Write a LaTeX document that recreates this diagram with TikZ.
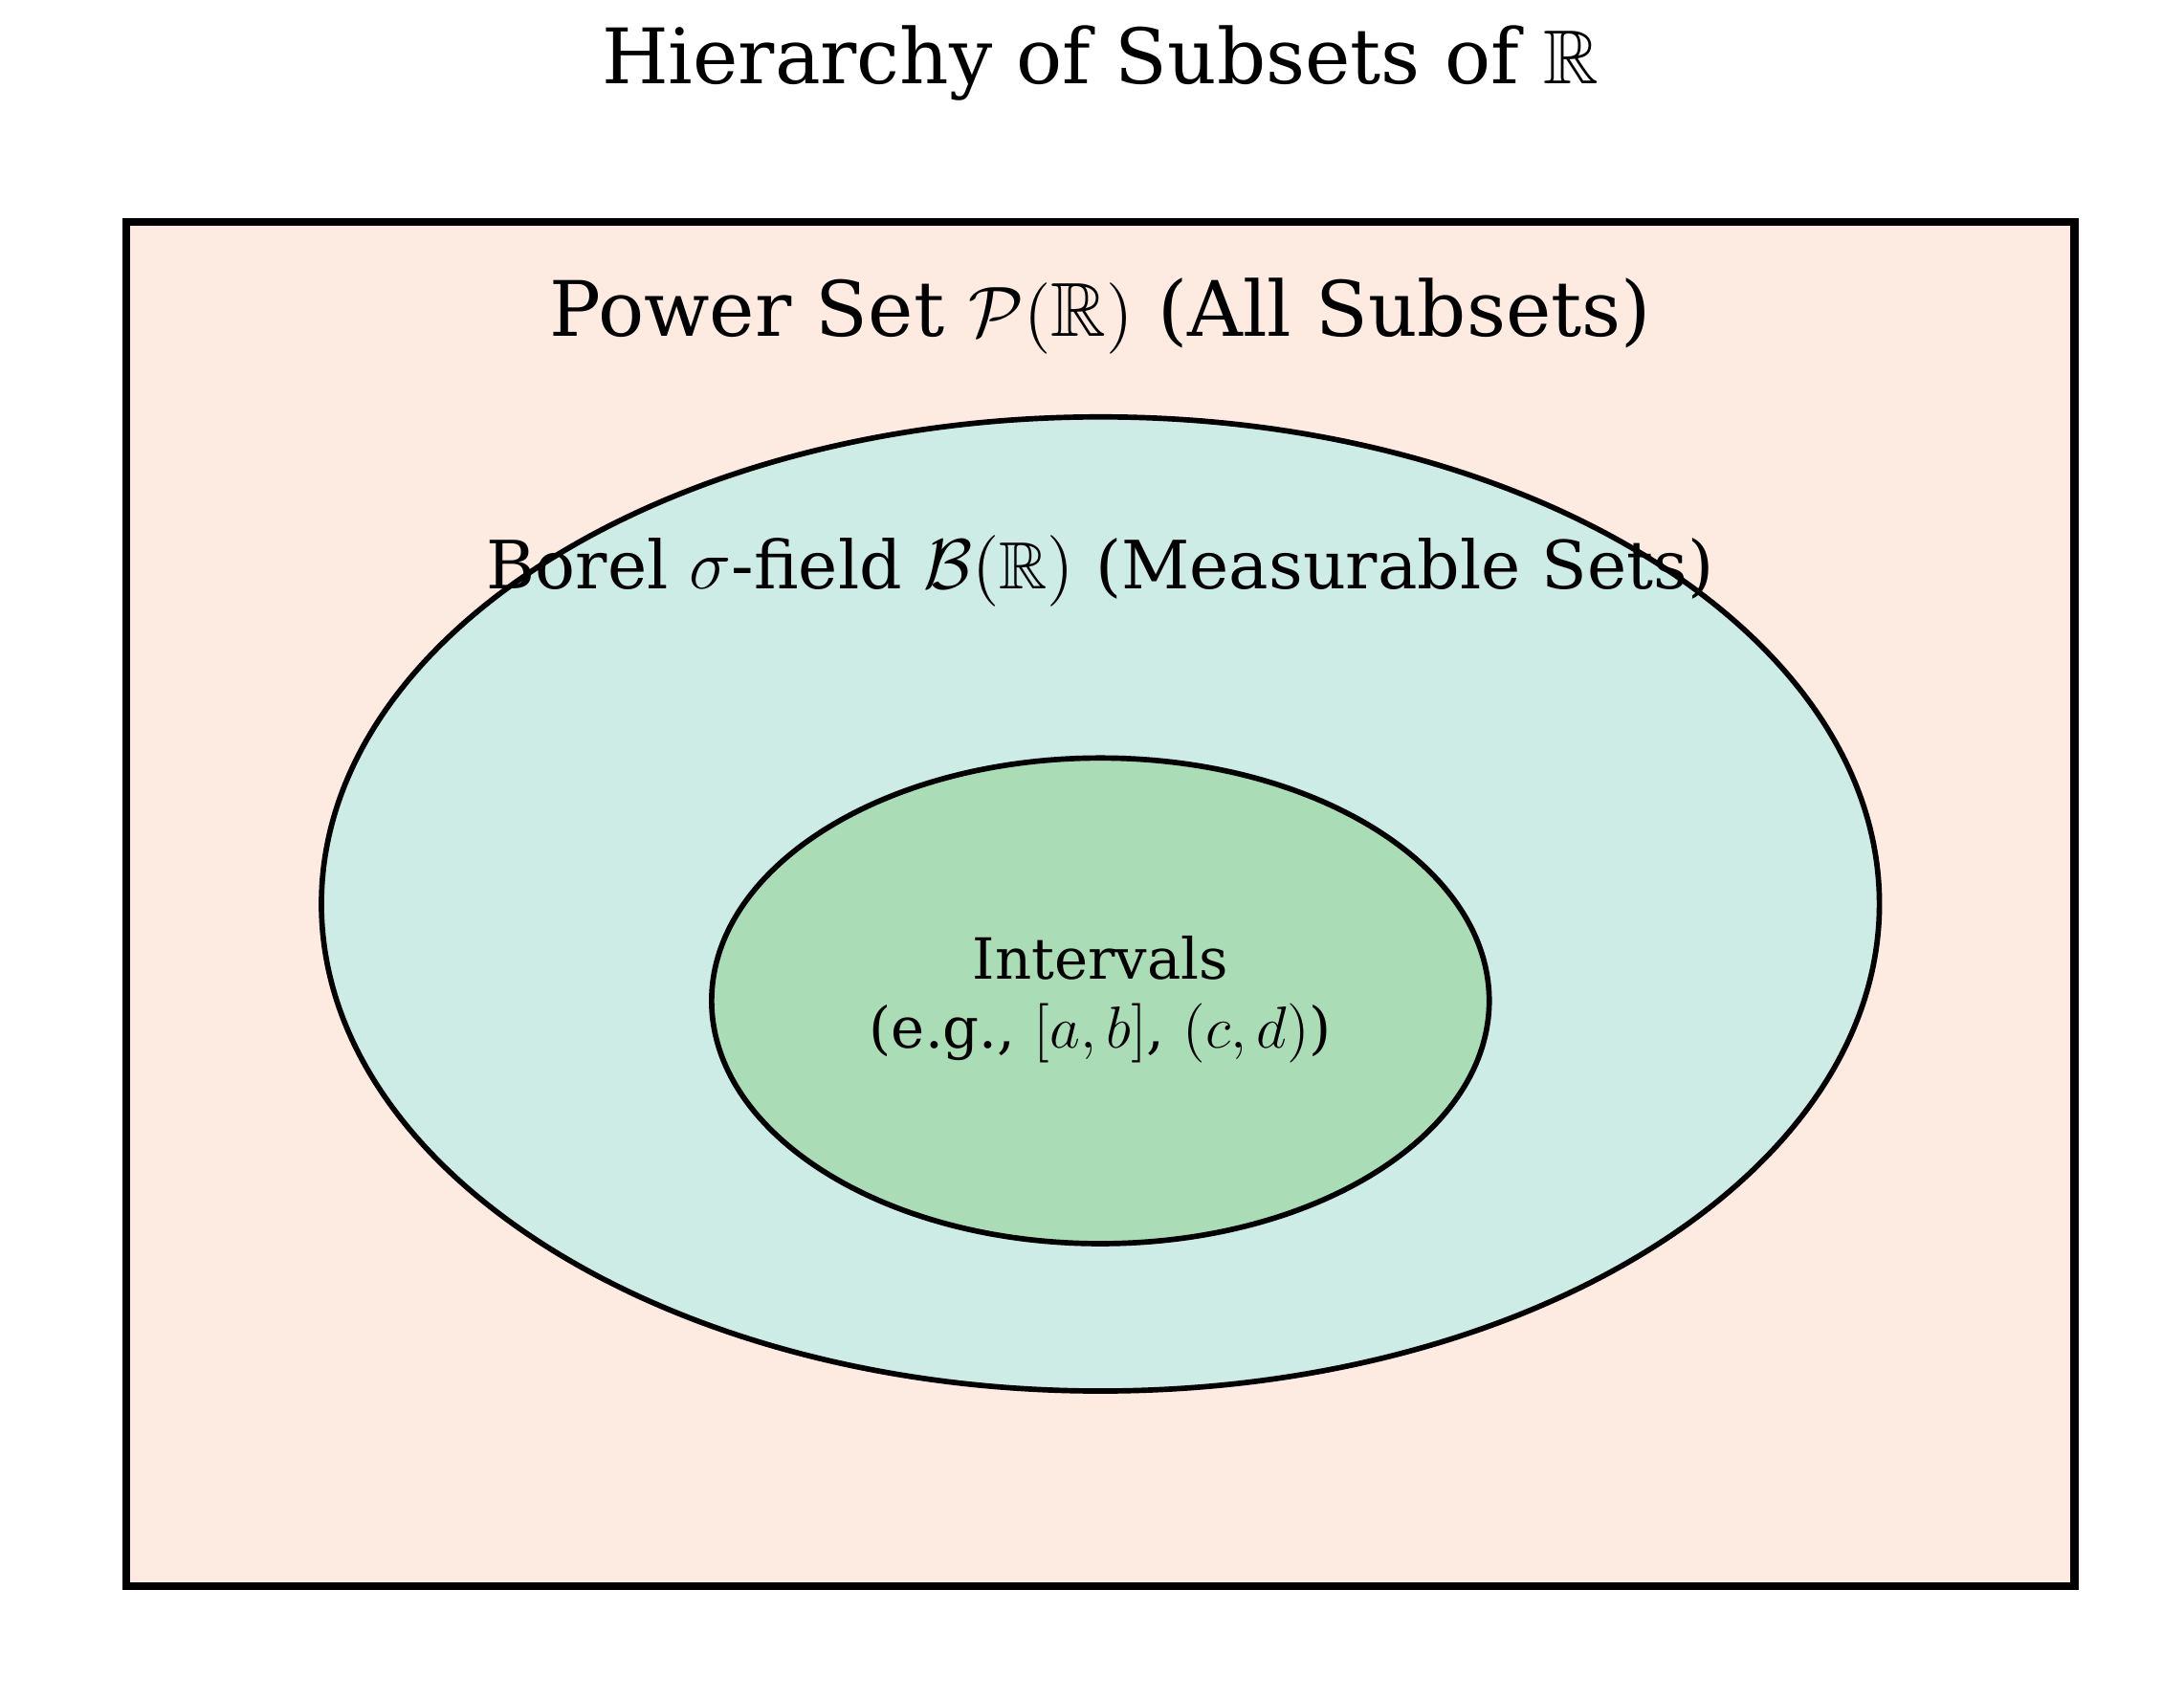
\documentclass[tikz,border=0pt]{standalone}
\usepackage{amssymb}
\usepackage{fontspec}
\setmainfont{DejaVu Serif}
\usetikzlibrary{positioning}
\definecolor{powerfill}{HTML}{FDEBE1}
\definecolor{borelfill}{HTML}{CCECE5}
\definecolor{intfill}{HTML}{AADDB5}
\begin{document}
\begin{tikzpicture}[x=0.01cm,y=-0.01cm]
	\tikzset{
		setline/.style={draw=black, line width=1.1pt},
		lbl/.style={inner sep=0pt, align=center}
	}
	\useasboundingbox (0,0) rectangle (1556,1211);

	\draw [setline, line width=1.6pt, fill=powerfill] (90,158) rectangle (1478,1130);
	\draw [setline, fill=borelfill] (784,644) ellipse [x radius=555, y radius=347];
	\draw [setline, fill=intfill] (784,713) ellipse [x radius=277, y radius=173];

	\node [lbl, font=\fontsize{15.5}{18}\selectfont] (title) at (784,45) {Hierarchy of Subsets of $\mathbb{R}$};
	\node [lbl, font=\fontsize{15.5}{18}\selectfont] (power) at (784,225) {Power Set $\mathcal{P}(\mathbb{R})$ (All Subsets)};
	\node [lbl, font=\fontsize{13.5}{16}\selectfont] (borel) at (784,407) {Borel $\sigma$-field $\mathcal{B}(\mathbb{R})$ (Measurable Sets)};
	\node [lbl, font=\fontsize{11.5}{14}\selectfont] (intervals) at (784,712) {Intervals\\(e.g., $[a,b]$, $(c,d)$)};
\end{tikzpicture}
\end{document}
